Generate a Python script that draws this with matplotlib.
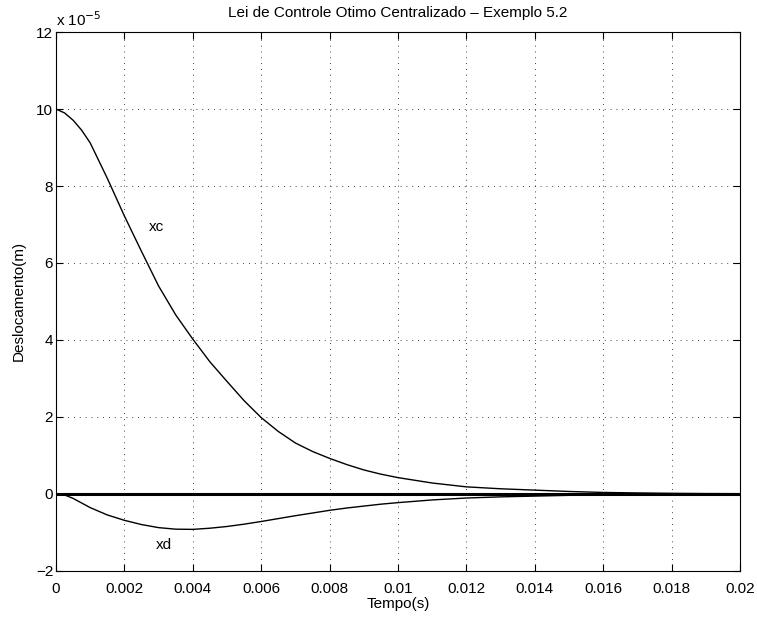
import matplotlib
matplotlib.use("Agg")
import matplotlib.pyplot as plt

plt.rcParams['font.family'] = ['Liberation Sans', 'DejaVu Sans']

# time (s)
t = [0, 0.00025, 0.0005, 0.00075, 0.001, 0.0015, 0.002, 0.0025, 0.003, 0.0035,
     0.004, 0.0045, 0.005, 0.0055, 0.006, 0.0065, 0.007, 0.0075, 0.008, 0.0085,
     0.009, 0.0095, 0.01, 0.011, 0.012, 0.013, 0.014, 0.015, 0.016, 0.017,
     0.018, 0.019, 0.02]
# displacements (x 1e-5 m)
xc = [10.0, 9.9, 9.71, 9.45, 9.12, 8.2, 7.22, 6.3, 5.4, 4.65,
      4.02, 3.43, 2.92, 2.42, 1.98, 1.62, 1.32, 1.1, 0.92, 0.76,
      0.62, 0.51, 0.42, 0.28, 0.18, 0.13, 0.095, 0.06, 0.035, 0.022,
      0.012, 0.006, 0.003]
xd = [0, -0.03, -0.12, -0.24, -0.36, -0.55, -0.69, -0.8, -0.88, -0.92,
      -0.925, -0.895, -0.85, -0.79, -0.72, -0.645, -0.57, -0.5, -0.43, -0.37,
      -0.32, -0.27, -0.23, -0.16, -0.11, -0.08, -0.06, -0.04, -0.022, -0.013,
      -0.007, -0.004, -0.002]

xticks = [0, 0.002, 0.004, 0.006, 0.008, 0.01, 0.012, 0.014, 0.016, 0.018, 0.02]
xticklabels = ['0', '0.002', '0.004', '0.006', '0.008', '0.01', '0.012',
               '0.014', '0.016', '0.018', '0.02']
yticks = [-2, 0, 2, 4, 6, 8, 10, 12]
yticklabels = ['\u22122', '0', '2', '4', '6', '8', '10', '12']

fig = plt.figure(figsize=(7.57, 6.18), dpi=100)
ax = fig.add_axes([0.074, 0.0765, 0.9035, 0.8715])

ax.plot(t, xc, color='black', linewidth=1.0)
ax.plot(t, xd, color='black', linewidth=1.0)
ax.axhline(0, color='black', linewidth=2.2)

ax.text(0.00293, 6.93, 'xc', fontsize=11, ha='center', va='center')
ax.text(0.00316, -1.34, 'xd', fontsize=11, ha='center', va='center')

ax.set_xlim(0, 0.02)
ax.set_ylim(-2, 12)
ax.set_xticks(xticks)
ax.set_xticklabels(xticklabels)
ax.set_yticks(yticks)
ax.set_yticklabels(yticklabels)
ax.tick_params(direction='in', top=True, right=True, labelsize=11, length=5, width=0.8)
ax.tick_params(axis='x', pad=8)
ax.tick_params(axis='y', pad=2)
ax.grid(True, color='black', linestyle=(0, (1, 6)), linewidth=0.6)
for s in ax.spines.values():
    s.set_linewidth(0.8)

ax.set_title('Lei de Controle Otimo Centralizado \u2013 Exemplo 5.2', fontsize=11, pad=11)
ax.set_xlabel('Tempo(s)', fontsize=11, labelpad=1)
ax.set_ylabel('Deslocamento(m)', fontsize=11, labelpad=7)
ax.text(0.0, 1.006, r'x 10$^{-5}$', transform=ax.transAxes, fontsize=11,
        ha='left', va='bottom')

fig.savefig('out.png', dpi=100)
